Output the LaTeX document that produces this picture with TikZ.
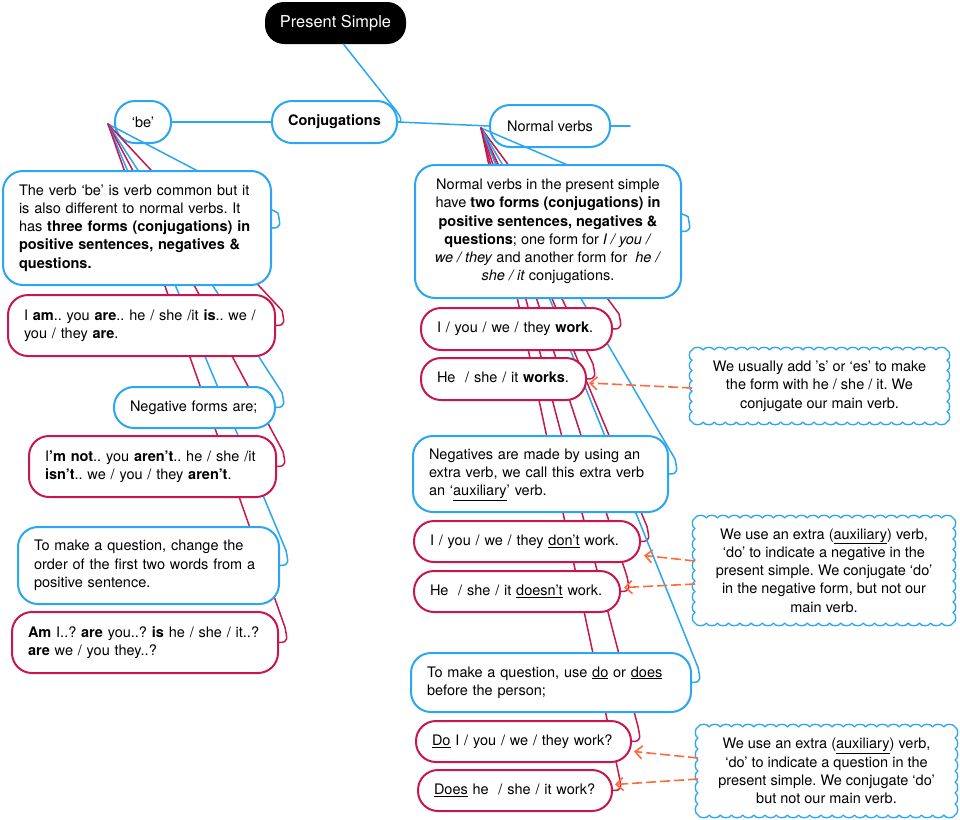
\documentclass[tikz,border=0pt]{standalone}
\usepackage{fontspec}
\setmainfont{TeX Gyre Heros}
\usetikzlibrary{calc,arrows.meta}
\definecolor{cblue}{HTML}{2BA6F2}
\definecolor{cred}{HTML}{C8174E}
\definecolor{corange}{HTML}{FF6A3D}
\frenchspacing
\newcommand\mmbody{\fontsize{14.5}{18.3}\selectfont\frenchspacing}
\newcommand\mmlines[1]{\begin{tabular}{@{}l@{}}#1\end{tabular}}
\newcommand\mmhook[3]{\draw[conn,#1] (#2) -- ($(#3.east)+(6,-15)$) .. controls +(2,11) and +(10,0) .. (#3.east);}
% scalloped cloud border: x0 y0 x1 y1
\newcommand\mmcloud[4]{%
  \pgfmathtruncatemacro\mmnx{round((#3-#1)/11)}%
  \pgfmathtruncatemacro\mmny{round((#4-#2)/11)}%
  \pgfmathsetmacro\mmdx{(#3-#1)/\mmnx}%
  \pgfmathsetmacro\mmdy{(#4-#2)/\mmny}%
  \draw[cloudline] (#1,#2)
    foreach \mmi in {1,...,\mmnx}{ .. controls +(0.1*\mmdx,-3.6) and +(-0.1*\mmdx,-3.6) .. ++(\mmdx,0) }
    foreach \mmi in {1,...,\mmny}{ .. controls +(3.6,0.1*\mmdy) and +(3.6,-0.1*\mmdy) .. ++(0,\mmdy) }
    foreach \mmi in {1,...,\mmnx}{ .. controls +(-0.1*\mmdx,3.6) and +(0.1*\mmdx,3.6) .. ++(-\mmdx,0) }
    foreach \mmi in {1,...,\mmny}{ .. controls +(-3.6,-0.1*\mmdy) and +(-3.6,0.1*\mmdy) .. ++(0,-\mmdy) }
    -- cycle;}
\begin{document}
\begin{tikzpicture}[x=1pt,y=-1pt,
  box/.style={draw=cblue, fill=white, line width=2pt, rounded corners=20pt,
    inner xsep=16pt, inner ysep=2pt, font=\mmbody, align=left},
  rbox/.style={box, draw=cred},
  cbox/.style={box, align=center, inner xsep=4pt},
  cloudbox/.style={fill=white, font=\mmbody, align=center, inner sep=0pt},
  cloudline/.style={draw=cblue, line width=1.3pt, line join=round},
  conn/.style={line width=1.5pt, line join=round, line cap=round},
  note/.style={draw=corange, dash pattern=on 10pt off 4pt, line width=1.6pt,
    -{Straight Barb[length=7pt,width=13pt,line width=1.6pt]}}
]
\fill[white] (0,0) rectangle (960,819);
\useasboundingbox (0,0) rectangle (960,819);

\coordinate (L) at (108,124);
\coordinate (R) at (481,128);
\coordinate (stub) at (630,126);

% ---- top nodes
\node[fill=black, rounded corners=19pt, minimum width=141pt, minimum height=42pt,
  text=white, font=\fontsize{16.4}{20}\selectfont] (ps) at (335.5,23) {Present Simple};
\node[cbox, minimum width=125pt, minimum height=42pt] (conj) at (334.5,122) {\textbf{Conjugations}};
\node[cbox, minimum width=56pt, minimum height=42pt] (be) at (143,122) {‘be’};
\node[cbox, minimum width=120pt, minimum height=42pt] (nv) at (550,126) {Normal verbs};

% ---- child box anchors (invisible)
\begin{scope}[every node/.append style={opacity=0}]
\node[box, minimum width=268pt, minimum height=114pt, text width=236pt] (d1) at (137,228) {};
\node[rbox, minimum width=267pt, minimum height=61pt, text width=235pt] (am) at (141.5,325.5) {};
\node[box, minimum width=161pt, minimum height=41pt, text width=129pt] (neg) at (194.5,407.5) {};
\node[rbox, minimum width=247pt, minimum height=61pt, text width=215pt] (nt) at (152.5,466.5) {};
\node[box, minimum width=261pt, minimum height=77pt, text width=229pt] (q1) at (148.5,565.5) {};
\node[rbox, minimum width=266pt, minimum height=61pt, text width=234pt] (ami) at (145,642.5) {};
\node[cbox, minimum width=266pt, minimum height=133pt] (d2) at (548,231.5) {};
\node[rbox, minimum width=191pt, minimum height=42pt, text width=159pt] (wk) at (516.5,329) {};
\node[rbox, minimum width=165pt, minimum height=42pt, text width=133pt] (wks) at (503.5,379) {};
\node[box, minimum width=255pt, minimum height=76pt, text width=223pt] (ng) at (540.5,474) {};
\node[rbox, minimum width=226pt, minimum height=41pt, text width=194pt] (dn) at (527,541.5) {};
\node[rbox, minimum width=206pt, minimum height=41pt, text width=174pt] (ds) at (517,591.5) {};
\node[box, minimum width=280pt, minimum height=59pt, text width=248pt] (q2) at (551,682.5) {};
\node[rbox, minimum width=215pt, minimum height=41pt, text width=183pt] (do) at (523.5,741.5) {};
\node[rbox, minimum width=194pt, minimum height=41pt, text width=162pt] (dss) at (515,790.5) {};
\end{scope}

% ---- connectors (behind boxes)
\draw[conn,cblue] ($(ps.south)+(8,0)$) -- ($(conj.east)+(-4,-14)$) .. controls +(5,6) and +(6,0) .. (conj.east);
\draw[conn,cblue] (conj.west) -- (be.east);
\draw[conn,cblue] (conj.east) -- (nv.west);
\draw[conn,cblue] (nv.east) -- (stub);
\mmhook{cblue}{L}{d1}
\mmhook{cred}{L}{am}
\mmhook{cblue}{L}{neg}
\mmhook{cred}{L}{nt}
\mmhook{cblue}{L}{q1}
\mmhook{cred}{L}{ami}
\mmhook{cblue}{R}{d2}
\mmhook{cred}{R}{wk}
\mmhook{cred}{R}{wks}
\mmhook{cblue}{R}{ng}
\mmhook{cred}{R}{dn}
\mmhook{cred}{R}{ds}
\mmhook{cblue}{R}{q2}
\mmhook{cred}{R}{do}
\mmhook{cred}{R}{dss}

% ---- visible boxes
\node[box, minimum width=268pt, minimum height=114pt, text width=236pt] (d1v) at (d1) {\mmlines{The verb ‘be’ is verb common but it\\ is also different to normal verbs. It\\ has \textbf{three forms (conjugations) in}\\ \textbf{positive sentences, negatives \&}\\ \textbf{questions.}}};
\node[rbox, minimum width=267pt, minimum height=61pt, text width=235pt] (amv) at (am) {\mmlines{I \textbf{am}.. you \textbf{are}.. he / she /it \textbf{is}.. we /\\ you / they \textbf{are}.}};
\node[box, minimum width=161pt, minimum height=41pt, text width=129pt] (negv) at (neg) {\mmlines{Negative forms are;}};
\node[rbox, minimum width=247pt, minimum height=61pt, text width=215pt] (ntv) at (nt) {\mmlines{I\textbf{’m not}.. you \textbf{aren’t}.. he / she /it\\ \textbf{isn’t}.. we / you / they \textbf{aren’t}.}};
\node[box, minimum width=261pt, minimum height=77pt, text width=229pt] (q1v) at (q1) {\mmlines{To make a question, change the\\ order of the first two words from a\\ positive sentence.}};
\node[rbox, minimum width=266pt, minimum height=61pt, text width=234pt] (amiv) at (ami) {\mmlines{\textbf{Am} I..? \textbf{are} you..? \textbf{is} he / she / it..?\\ \textbf{are} we / you they..?}};

\node[cbox, minimum width=266pt, minimum height=133pt] (d2v) at (d2) {Normal verbs in the present simple\\ have \textbf{two forms (conjugations) in}\\ \textbf{positive sentences, negatives \&}\\ \textbf{questions}; one form for \textit{I / you /}\\ \textit{we / they} and another form for \ \textit{he /}\\ \textit{she / it} conjugations.};
\node[rbox, minimum width=191pt, minimum height=42pt, text width=159pt] (wkv) at (wk) {\mmlines{I / you / we / they \textbf{work}.}};
\node[rbox, minimum width=165pt, minimum height=42pt, text width=133pt] (wksv) at (wks) {\mmlines{He \ / she / it \textbf{works}.}};
\node[box, minimum width=255pt, minimum height=76pt, text width=223pt] (ngv) at (ng) {\mmlines{Negatives are made by using an\\ extra verb, we call this extra verb\\ an ‘\underline{auxiliary}’ verb.}};
\node[rbox, minimum width=226pt, minimum height=41pt, text width=194pt] (dnv) at (dn) {\mmlines{I / you / we / they \underline{don’t} work.}};
\node[rbox, minimum width=206pt, minimum height=41pt, text width=174pt] (dsv) at (ds) {\mmlines{He \ / she / it \underline{doesn’t} work.}};
\node[box, minimum width=280pt, minimum height=59pt, text width=248pt] (q2v) at (q2) {\mmlines{To make a question, use \underline{do} or \underline{does}\\ before the person;}};
\node[rbox, minimum width=215pt, minimum height=41pt, text width=183pt] (dov) at (do) {\mmlines{\underline{Do} I / you / we / they work?}};
\node[rbox, minimum width=194pt, minimum height=41pt, text width=162pt] (dssv) at (dss) {\mmlines{\underline{Does} he \ / she / it work?}};

% ---- clouds
\mmcloud{692}{350}{947}{422}
\node[cloudbox] (c1) at (819.5,386) {We usually add ’s’ or ‘es’ to make\\ the form with he / she / it. We\\ conjugate our main verb.};
\mmcloud{695}{518}{953}{623}
\node[cloudbox] (c2) at (824,570.5) {We use an extra (\underline{auxiliary}) verb,\\ ‘do’ to indicate a negative in the\\ present simple. We conjugate ‘do’\\ in the negative form, but not our\\ main verb.};
\mmcloud{698}{727}{955}{815}
\node[cloudbox] (c3) at (826.5,771) {We use an extra (\underline{auxiliary}) verb,\\ ‘do’ to indicate a question in the\\ present simple. We conjugate ‘do’\\ but not our main verb.};
\coordinate (c1w) at (692,388);
\coordinate (c2a) at (695,561);
\coordinate (c2b) at (695,584);
\coordinate (c3a) at (698,758);
\coordinate (c3b) at (698,779);

% ---- note arrows
\draw[note] (c1w) -- ($(wksv.east)+(2,4)$);
\draw[note] (c2a) -- ($(dnv.east)+(3,14)$);
\draw[note] (c2b) -- ($(dsv.east)+(3,-4)$);
\draw[note] (c3a) -- ($(dov.east)+(2,10)$);
\draw[note] (c3b) -- ($(dssv.east)+(2,-6)$);
\end{tikzpicture}
\end{document}
